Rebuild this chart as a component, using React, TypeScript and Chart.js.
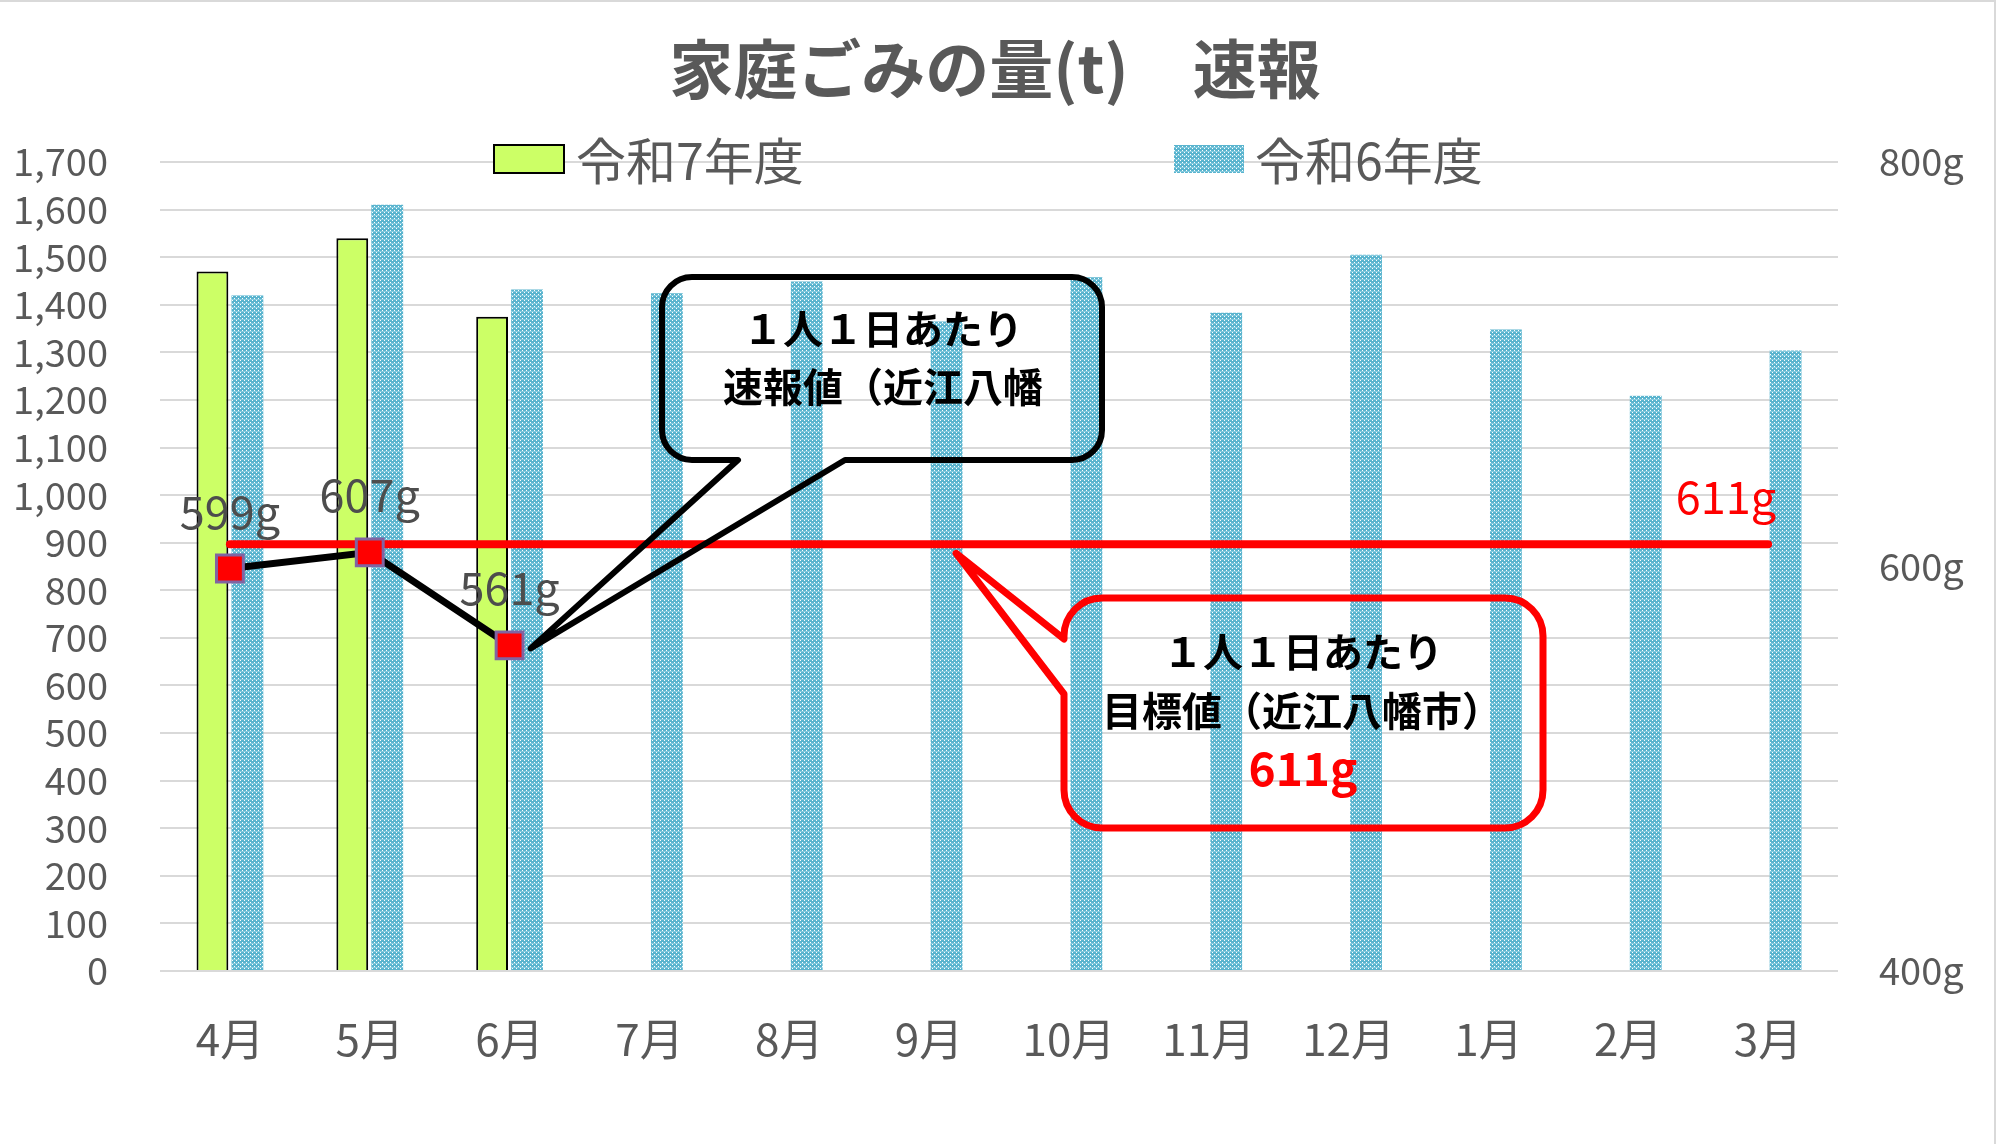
import React, { useEffect, useRef } from "react";
import { Chart, registerables } from "chart.js";

Chart.register(...registerables);

const months = ["4月", "5月", "6月", "7月", "8月", "9月", "10月", "11月", "12月", "1月", "2月", "3月"];
// 令和7年度 (t)
const reiwa7Tons = [1470, 1540, 1375, null, null, null, null, null, null, null, null, 0];
// 令和6年度 (t)
const reiwa6Tons = [1420, 1610, 1432, 1424, 1449, 1365, 1458, 1383, 1505, 1348, 1209, 1304];
// 1人1日あたり 速報値 (g)
const perPersonGrams = [599, 607, 561, null, null, null, null, null, null, null, null, null];
// 1人1日あたり 目標値 (g)
const targetGrams = [611, 611, 611, 611, 611, 611, 611, 611, 611, 611, 611, 611];

const FONT = "'Noto Sans CJK JP', 'Noto Sans', sans-serif";
const GRAY = "#595959";
const GREEN = "#CCFF66";

function bluePattern(): CanvasPattern | string {
  const c = document.createElement("canvas");
  c.width = 4;
  c.height = 4;
  const g = c.getContext("2d");
  if (!g) return "#74C2D8";
  g.fillStyle = "#5AB4CE";
  g.fillRect(0, 0, 4, 4);
  g.fillStyle = "#FFFFFF";
  g.fillRect(0, 0, 1, 1);
  g.fillRect(2, 2, 1, 1);
  g.fillStyle = "#86CBDF";
  g.fillRect(0, 3, 4, 1);
  return g.createPattern(c, "repeat") || "#74C2D8";
}

// rounded box with a wedge tail, on the bottom or left edge
function calloutPath(
  ctx: CanvasRenderingContext2D,
  x0: number, y0: number, x1: number, y1: number, r: number,
  edge: "bottom" | "left", a: number, b: number, tx: number, ty: number
) {
  ctx.beginPath();
  ctx.moveTo(x0 + r, y0);
  ctx.lineTo(x1 - r, y0);
  ctx.arcTo(x1, y0, x1, y0 + r, r);
  ctx.lineTo(x1, y1 - r);
  ctx.arcTo(x1, y1, x1 - r, y1, r);
  if (edge === "bottom") {
    ctx.lineTo(b, y1);
    ctx.lineTo(tx, ty);
    ctx.lineTo(a, y1);
  }
  ctx.lineTo(x0 + r, y1);
  ctx.arcTo(x0, y1, x0, y1 - r, r);
  if (edge === "left") {
    ctx.lineTo(x0, b);
    ctx.lineTo(tx, ty);
    ctx.lineTo(x0, a);
  }
  ctx.lineTo(x0, y0 + r);
  ctx.arcTo(x0, y0, x0 + r, y0, r);
  ctx.closePath();
}

const overlay = {
  id: "overlay",
  afterDraw(chart: any) {
    const ctx: CanvasRenderingContext2D = chart.ctx;
    const xs = chart.scales.x;
    const y1 = chart.scales.y1;
    ctx.save();

    // outer frame (top / right)
    ctx.strokeStyle = "#D9D9D9";
    ctx.lineWidth = 2;
    ctx.beginPath();
    ctx.moveTo(0, 1);
    ctx.lineTo(1995, 1);
    ctx.lineTo(1995, chart.height);
    ctx.stroke();

    // title
    ctx.fillStyle = GRAY;
    ctx.font = `bold 64px ${FONT}`;
    ctx.textAlign = "center";
    ctx.textBaseline = "middle";
    ctx.fillText("家庭ごみの量(t)　速報", 995, 69);

    // legend
    ctx.font = `50px ${FONT}`;
    ctx.textAlign = "left";
    ctx.fillStyle = GREEN;
    ctx.fillRect(494, 145, 70, 28);
    ctx.strokeStyle = "#000";
    ctx.lineWidth = 2;
    ctx.strokeRect(494, 145, 70, 28);
    ctx.fillStyle = GRAY;
    ctx.fillText("令和7年度", 576, 161);
    ctx.fillStyle = chart.data.datasets[3].backgroundColor;
    ctx.fillRect(1174, 145, 70, 28);
    ctx.fillStyle = GRAY;
    ctx.fillText("令和6年度", 1255, 161);

    // data labels of the per-person line
    const pm = chart.getDatasetMeta(0);
    ctx.font = `45px ${FONT}`;
    ctx.textAlign = "center";
    ctx.fillStyle = "#4D4D4D";
    perPersonGrams.forEach((v, i) => {
      if (v == null) return;
      const p = pm.data[i];
      ctx.fillText(`${v}g`, p.x, p.y - 57);
    });
    // target label at the end of the red line
    const tm = chart.getDatasetMeta(1);
    const last = tm.data[targetGrams.length - 1];
    ctx.fillStyle = "#FF0000";
    ctx.textAlign = "right";
    ctx.fillText(`${targetGrams[targetGrams.length - 1]}g`, last.x + 8, last.y - 47);

    // black callout -> 6月 point
    const p6 = pm.data[2];
    ctx.lineJoin = "round";
    ctx.strokeStyle = "#000";
    ctx.lineWidth = 6;
    calloutPath(ctx, 662, 277, 1102, 460, 30, "bottom", 738, 845, p6.x + 21, p6.y + 3);
    ctx.stroke();
    ctx.fillStyle = "#000";
    ctx.font = `bold 40px ${FONT}`;
    ctx.textAlign = "center";
    ctx.fillText("１人１日あたり", 883, 329);
    ctx.fillText("速報値（近江八幡", 883, 387);

    // red callout -> target line
    const tx = xs.getPixelForValue(5) + 27;
    const ty = y1.getPixelForValue(611) + 9;
    ctx.strokeStyle = "#FF0000";
    ctx.lineWidth = 7;
    calloutPath(ctx, 1064, 598, 1543, 828, 38, "left", 639, 694, tx, ty);
    ctx.stroke();
    ctx.fillStyle = "#000";
    ctx.fillText("１人１日あたり", 1303, 652);
    ctx.fillText("目標値（近江八幡市）", 1302, 711);
    ctx.fillStyle = "#FF0000";
    ctx.font = `bold 46px ${FONT}`;
    ctx.fillText("611g", 1303, 769);

    ctx.restore();
  },
};

const App: React.FC = () => {
  const canvasRef = useRef<HTMLCanvasElement>(null);

  useEffect(() => {
    if (!canvasRef.current) return;
    const blue = bluePattern();
    const chart = new Chart(canvasRef.current, {
      type: "bar",
      data: {
        labels: months,
        datasets: [
          {
            type: "line",
            label: "1人1日あたり速報値",
            data: perPersonGrams,
            yAxisID: "y1",
            borderColor: "#000000",
            borderWidth: 7,
            pointStyle: "rect",
            pointRadius: 19,
            pointBackgroundColor: "#FF0000",
            pointBorderColor: "#8064A2",
            pointBorderWidth: 3,
            spanGaps: false,
            order: 0,
          },
          {
            type: "line",
            label: "目標値",
            data: targetGrams,
            yAxisID: "y1",
            borderColor: "#FF0000",
            borderWidth: 8,
            borderCapStyle: "round",
            pointRadius: 0,
            order: 1,
          },
          {
            label: "令和7年度",
            data: reiwa7Tons,
            yAxisID: "y",
            backgroundColor: GREEN,
            borderColor: "#000000",
            borderWidth: 2,
            categoryPercentage: 0.5,
            barPercentage: 0.91,
            order: 2,
          },
          {
            label: "令和6年度",
            data: reiwa6Tons,
            yAxisID: "y",
            backgroundColor: blue as any,
            borderWidth: 0,
            categoryPercentage: 0.5,
            barPercentage: 0.91,
            order: 3,
          },
        ] as any,
      },
      options: {
        responsive: false,
        animation: false,
        layout: { padding: { top: 162, left: 0, right: 0, bottom: 0 } },
        plugins: {
          legend: { display: false },
          title: { display: false },
          tooltip: { enabled: false },
        },
        scales: {
          x: {
            grid: { display: false },
            border: { display: false },
            ticks: { color: GRAY, font: { family: FONT, size: 44 }, padding: 34 },
            afterFit: (s: any) => {
              s.height = 173;
            },
          },
          y: {
            position: "left",
            min: 0,
            max: 1700,
            grid: { color: "#D9D9D9", lineWidth: 2, drawTicks: false },
            border: { display: false },
            ticks: {
              stepSize: 100,
              autoSkip: false,
              maxTicksLimit: 30,
              color: GRAY,
              font: { family: FONT, size: 38, lineHeight: 1 },
              padding: 52,
              callback: (v: any) => Number(v).toLocaleString("en-US"),
            },
            afterFit: (s: any) => {
              s.width = 160;
            },
          },
          y1: {
            position: "right",
            min: 400,
            max: 800,
            grid: { display: false, drawTicks: false },
            border: { display: false },
            ticks: {
              stepSize: 200,
              autoSkip: false,
              color: GRAY,
              font: { family: FONT, size: 38, lineHeight: 1 },
              padding: 41,
              callback: (v: any) => `${v}g`,
            },
            afterFit: (s: any) => {
              s.width = 162;
            },
          },
        },
      } as any,
      plugins: [overlay],
    });
    return () => {
      chart.destroy();
    };
  }, []);

  return (
    <div style={{ position: "fixed", left: 0, top: 0, width: 2000, height: 1144, background: "#fff" }}>
      <canvas ref={canvasRef} width={2000} height={1144} style={{ display: "block" }} />
    </div>
  );
};

export default App;
